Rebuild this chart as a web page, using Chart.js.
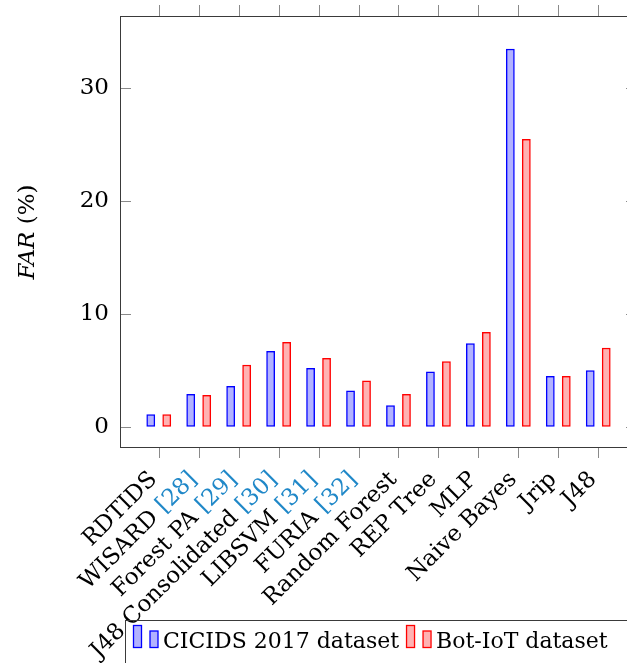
<!DOCTYPE html>
<html>
<head>
<meta charset="utf-8">
<script src="https://cdn.jsdelivr.net/npm/chart.js@4/dist/chart.umd.min.js"></script>
<style>
  html, body { margin: 0; padding: 0; background: #fff; overflow: hidden; }
  #wrap { position: relative; width: 640px; height: 663px; }
</style>
</head>
<body>
<div id="wrap"><canvas id="far" width="640" height="663"></canvas></div>
<script>
// Detection methods on the x axis, with their citation keys
const methods = ['RDTIDS', 'WISARD', 'Forest PA', 'J48 Consolidated', 'LIBSVM', 'FURIA',
                 'Random Forest', 'REP Tree', 'MLP', 'Naive Bayes', 'Jrip', 'J48'];
const citations = ['', '[28]', '[29]', '[30]', '[31]', '[32]', '', '', '', '', '', ''];

// False alarm rate (%) per dataset
const cicids2017 = [1.1, 2.9, 3.6, 6.7, 5.2, 3.2, 1.9, 4.9, 7.4, 33.5, 4.5, 5.0];
const botIot     = [1.1, 2.8, 5.5, 7.5, 6.1, 4.1, 2.9, 5.8, 8.4, 25.5, 4.5, 7.0];

const yTicks = [0, 10, 20, 30];
const seriesNames = ['CICIDS 2017 dataset', 'Bot-IoT dataset'];

const FONT = '"DejaVu Serif", "Liberation Serif", serif';
const SIZE = 22;
const LABEL_SIZE = 23;
const CITE = 'rgb(32,136,200)';

const palette = [
  { fill: 'rgba(0,0,255,0.3)', line: '#0000ff' },
  { fill: 'rgba(255,0,0,0.3)', line: '#ff0000' }
];

function line(ctx, x1, y1, x2, y2) {
  ctx.beginPath(); ctx.moveTo(x1, y1); ctx.lineTo(x2, y2); ctx.stroke();
}

// Axis box, tick marks, rotated category labels, y title and legend box
const decorations = {
  id: 'decorations',
  afterDraw(chart) {
    const { ctx, chartArea: a, scales: { x, y } } = chart;
    ctx.save();

    // tick marks: x outward on top and bottom, y inward on both sides
    ctx.strokeStyle = '#8a8a8a';
    ctx.lineWidth = 1;
    const tl = 11;
    methods.forEach((m, i) => {
      const px = Math.round(x.getPixelForValue(i)) + 0.5;
      line(ctx, px, a.top - tl, px, a.top);
      line(ctx, px, a.bottom, px, a.bottom + tl);
    });
    yTicks.forEach(v => {
      const py = Math.round(y.getPixelForValue(v)) + 0.5;
      line(ctx, a.left, py, a.left + tl, py);
      line(ctx, a.right - tl, py, a.right, py);
    });

    // frame
    ctx.strokeStyle = '#3a3a3a';
    ctx.strokeRect(Math.round(a.left) + 0.5, Math.round(a.top) + 0.5,
                   Math.round(a.right - a.left), Math.round(a.bottom - a.top));

    // category labels, rotated 45 degrees, citation keys in link colour
    ctx.font = LABEL_SIZE + 'px ' + FONT;
    ctx.textBaseline = 'middle';
    ctx.textAlign = 'left';
    methods.forEach((m, i) => {
      const main = citations[i] ? m + ' ' : m;
      const wMain = ctx.measureText(main).width;
      const wCite = citations[i] ? ctx.measureText(citations[i]).width : 0;
      const px = x.getPixelForValue(i);
      ctx.save();
      ctx.translate(px - 5, a.bottom + 29);
      ctx.rotate(-Math.PI / 4);
      ctx.fillStyle = '#000';
      ctx.fillText(main, -(wMain + wCite), 0);
      if (citations[i]) {
        ctx.fillStyle = CITE;
        ctx.fillText(citations[i], -wCite, 0);
      }
      ctx.restore();
    });

    // y axis title: italic FAR followed by (%)
    ctx.save();
    ctx.translate(34, 232);
    ctx.rotate(-Math.PI / 2);
    ctx.textBaseline = 'alphabetic';
    ctx.fillStyle = '#000';
    ctx.font = 'italic ' + LABEL_SIZE + 'px ' + FONT;
    const t1 = 'FAR';
    const w1 = ctx.measureText(t1).width;
    ctx.font = LABEL_SIZE + 'px ' + FONT;
    const t2 = ' (%)';
    const w2 = ctx.measureText(t2).width;
    const start = -(w1 + w2) / 2;
    ctx.font = 'italic ' + LABEL_SIZE + 'px ' + FONT;
    ctx.fillText(t1, start, 0);
    ctx.font = LABEL_SIZE + 'px ' + FONT;
    ctx.fillText(t2, start + w1, 0);
    ctx.restore();

    // legend box
    const lx = 125.5, ly = 620.5;
    ctx.strokeStyle = '#3a3a3a';
    ctx.lineWidth = 1;
    ctx.strokeRect(lx, ly, 700, 120);
    ctx.font = SIZE + 'px ' + FONT;
    ctx.textBaseline = 'alphabetic';
    let cx = 133.5;
    const base = 647.5;
    seriesNames.forEach((name, k) => {
      ctx.fillStyle = palette[k].fill;
      ctx.strokeStyle = palette[k].line;
      ctx.lineWidth = 1.3;
      ctx.fillRect(cx, base - 22, 8, 22);
      ctx.strokeRect(cx, base - 22, 8, 22);
      ctx.fillRect(cx + 16.5, base - 16.5, 8, 16.5);
      ctx.strokeRect(cx + 16.5, base - 16.5, 8, 16.5);
      ctx.fillStyle = '#000';
      const tx = cx + 29.5;
      ctx.fillText(name, tx, 648);
      cx = tx + ctx.measureText(name).width + 7.5;
    });

    ctx.restore();
  }
};

const toPoints = vals => vals.map((v, i) => ({ x: i, y: v }));

new Chart(document.getElementById('far'), {
  type: 'bar',
  data: {
    datasets: [
      {
        label: seriesNames[0],
        data: toPoints(cicids2017),
        backgroundColor: palette[0].fill,
        borderColor: palette[0].line,
        borderWidth: 1.5,
        borderSkipped: false
      },
      {
        label: seriesNames[1],
        data: toPoints(botIot),
        backgroundColor: palette[1].fill,
        borderColor: palette[1].line,
        borderWidth: 1.5,
        borderSkipped: false
      }
    ]
  },
  options: {
    responsive: false,
    animation: false,
    devicePixelRatio: 1,
    categoryPercentage: 0.8,
    barPercentage: 0.55,
    layout: { padding: { top: 16, right: 3, bottom: 216, left: 0 } },
    plugins: {
      legend: { display: false },
      tooltip: { enabled: false }
    },
    scales: {
      x: {
        type: 'linear',
        display: false,
        min: -0.97,
        max: 11.97,
        offset: false
      },
      y: {
        type: 'linear',
        min: -1.8,
        max: 36.41,
        afterBuildTicks: s => { s.ticks = yTicks.map(v => ({ value: v })); },
        afterFit: s => { s.width = 120; s.paddingTop = 0; s.paddingBottom = 0; },
        grid: { display: false, drawTicks: false },
        border: { display: false },
        ticks: {
          padding: 11,
          color: '#000',
          font: { family: FONT, size: 23 }
        }
      }
    }
  },
  plugins: [decorations]
});
</script>
</body>
</html>
